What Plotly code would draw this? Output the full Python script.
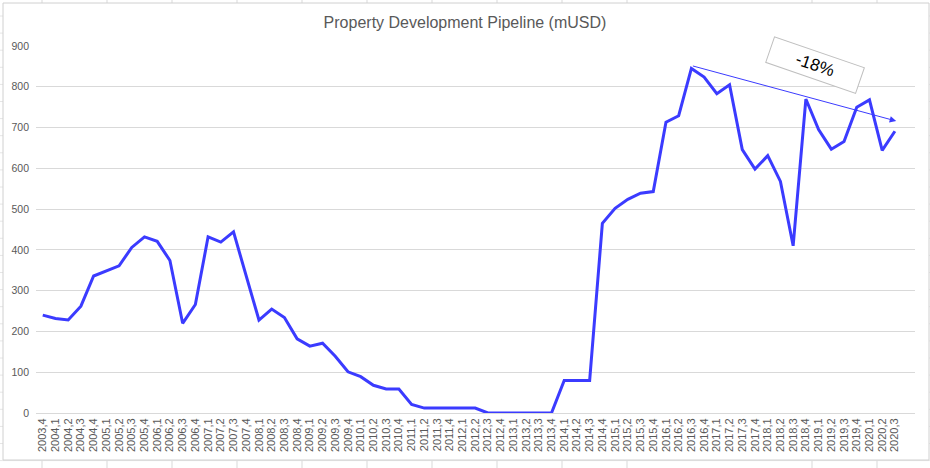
import plotly.graph_objects as go

# 季度标签 2003,4 ... 2020,3
quarters = [f"{y},{q}" for y in range(2003, 2021) for q in range(1, 5)]
quarters = quarters[3:3 + 68]

pipeline = [240, 232, 228, 262, 336, 349, 361, 406, 432, 421, 374, 220, 266, 432, 419, 444,
            336, 228, 255, 234, 182, 164, 171, 139, 101, 89, 68, 59, 59, 21, 12, 12,
            12, 12, 12, 0, 0, 0, 0, 0, 0, 80, 80, 80, 465, 502, 524, 539,
            543, 713, 729, 845, 824, 783, 805, 646, 598, 631, 568, 410, 770, 695, 647, 666,
            750, 768, 644, 691]

trend_label = "-18%"
trend_start = (51, 852)    # 2016,3 peak
trend_end = (67.1, 716)

W, H = 930, 468
L, R, T, B = 36, 15, 46, 55
pw, ph = W - L - R, H - T - B


def px(x):  # pixel -> paper x
    return (x - L) / pw


def py(y):  # pixel -> paper y
    return (H - B - y) / ph


idx = list(range(len(pipeline)))
line = go.Scatter(x=idx, y=pipeline, mode="lines",
                  line=dict(color="#3b3bff", width=3), hoverinfo="skip")
fig = go.Figure([line])

# spreadsheet cells behind the chart object
shapes = []
for cx in [42, 107, 172, 237, 302, 367, 432, 497, 562, 627, 812, 877]:
    shapes.append(dict(type="line", xref="paper", yref="paper", x0=px(cx), x1=px(cx),
                       y0=py(0), y1=py(H), line=dict(color="#d9d9d9", width=1), layer="below"))
for k in range(27):
    cy = 16 + 17.1 * k
    shapes.append(dict(type="line", xref="paper", yref="paper", x0=px(0), x1=px(W),
                       y0=py(cy), y1=py(cy), line=dict(color="#e6e6e6", width=1), layer="below"))
shapes.append(dict(type="rect", xref="paper", yref="paper", x0=px(3), x1=px(929),
                   y0=py(460), y1=py(3), fillcolor="white",
                   line=dict(color="#d0d0d0", width=1), layer="below"))

fig.update_layout(
    width=W, height=H,
    margin=dict(l=L, r=R, t=T, b=B, autoexpand=False),
    paper_bgcolor="white", plot_bgcolor="white",
    font=dict(family="Liberation Sans, Arial, sans-serif", color="#595959"),
    title=dict(text="Property Development Pipeline (mUSD)", x=0.5, xanchor="center",
               y=1 - 22 / H, yanchor="middle", font=dict(size=16, color="#595959")),
    showlegend=False,
    hovermode=False,
    shapes=shapes,
    xaxis=dict(tickmode="array", tickvals=idx, ticktext=quarters, tickangle=-90,
               range=[-0.53, 68.58], showgrid=False, zeroline=False, automargin=False,
               showline=True, linecolor="#d9d9d9", ticks="", ticklabelstandoff=0,
               tickfont=dict(size=11, color="#595959")),
    yaxis=dict(range=[0, 900], dtick=100, showgrid=True, gridcolor="#d9d9d9",
               zeroline=False, showline=False, ticks="", ticklabelstandoff=6,
               automargin=False, tickfont=dict(size=10.5, color="#595959")),
)

fig.add_annotation(x=trend_end[0], y=trend_end[1], ax=trend_start[0], ay=trend_start[1],
                   xref="x", yref="y", axref="x", ayref="y", text="",
                   showarrow=True, arrowhead=2, arrowsize=1.3, arrowwidth=1,
                   arrowcolor="#3b3bff")
fig.add_annotation(x=60.7, y=853, xref="x", yref="y", text=trend_label, showarrow=False,
                   textangle=19, font=dict(size=17, color="#000000"),
                   bgcolor="white", bordercolor="#bfbfbf", borderwidth=1,
                   borderpad=3, width=88, height=20)

# page has default 8px body margin, remove it so the chart fills the window
fig.write_html("out.html", config={"displayModeBar": False},
               post_script="document.body.style.margin='0px';")
